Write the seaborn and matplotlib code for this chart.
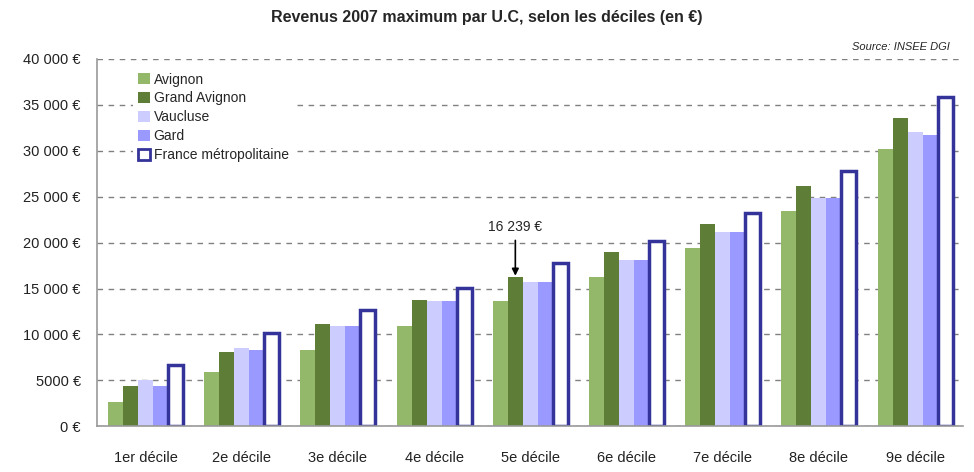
import pandas as pd
import numpy as np
import matplotlib
matplotlib.use("Agg")
import matplotlib.pyplot as plt
import seaborn as sns
from matplotlib.ticker import FuncFormatter

deciles = ['1er décile', '2e décile', '3e décile', '4e décile', '5e décile',
           '6e décile', '7e décile', '8e décile', '9e décile']
zones = ['Avignon', 'Grand Avignon', 'Vaucluse', 'Gard', 'France métropolitaine']

avignon = [2650, 5900, 8300, 10900, 13600, 16300, 19400, 23400, 30200]
grand_avignon = [4400, 8100, 11100, 13800, 16239, 19000, 22000, 26200, 33600]
vaucluse = [5000, 8500, 10900, 13600, 15700, 18100, 21200, 24900, 32100]
gard = [4400, 8300, 10900, 13600, 15700, 18100, 21200, 24900, 31700]
france = [6650, 10200, 12700, 15100, 17800, 20200, 23200, 27800, 35900]

colors = ['#94b86a', '#5e7e38', '#ccccff', '#9999ff', '#ffffff']
navy = '#333399'

rows = []
for zone, vals in zip(zones, [avignon, grand_avignon, vaucluse, gard, france]):
    for d, v in zip(deciles, vals):
        rows.append({'Décile': d, 'Zone': zone, 'Revenu': v})
df = pd.DataFrame(rows)

sns.set_style('white')
plt.rcParams['font.family'] = ['Liberation Sans', 'DejaVu Sans']

fig, ax = plt.subplots(figsize=(9.74, 4.72), dpi=100)
fig.subplots_adjust(left=0.1, right=0.989, top=0.875, bottom=0.097)

sns.barplot(data=df, x='Décile', y='Revenu', hue='Zone', hue_order=zones,
            order=deciles, palette=colors, width=0.78, gap=0, saturation=1,
            linewidth=0, ax=ax)

# France bars: white with navy outline
for bar in ax.containers[4]:
    bar.set_edgecolor(navy)
    bar.set_linewidth(2.5)

ax.set_ylim(0, 40000)
ax.set_xlim(-0.5, 8.5)
ax.yaxis.set_major_formatter(FuncFormatter(lambda v, p: f"{int(v):,} €".replace(',', ' ') if v >= 10000 else f"{int(v)} €"))
ax.set_yticks(np.arange(0, 40001, 5000))
ax.yaxis.grid(True, linestyle=(0, (4, 4)), color='#808080', linewidth=1)
ax.set_axisbelow(True)
ax.set_xlabel('')
ax.set_ylabel('')
ax.tick_params(axis='y', labelsize=10.5, colors='#222222', length=0, pad=12)
ax.tick_params(axis='x', labelsize=10.5, colors='#222222', length=0, pad=18)

for s in ['top', 'right']:
    ax.spines[s].set_visible(False)
ax.spines['left'].set_color('#999999')
ax.spines['bottom'].set_color('#999999')
ax.spines['left'].set_linewidth(1.2)
ax.spines['bottom'].set_linewidth(1.2)

handles, labels = ax.get_legend_handles_labels()
leg = ax.legend(handles, labels, loc='upper left', bbox_to_anchor=(0.041, 0.978),
                frameon=True, facecolor='white', edgecolor='none', framealpha=1,
                fancybox=False, fontsize=10, handlelength=0.8, handleheight=0.8,
                handletextpad=0.3, labelspacing=0.35, borderaxespad=0,
                borderpad=0.4)
for h in leg.legend_handles[4:]:
    h.set_edgecolor(navy)
    h.set_linewidth(2)

ax.annotate('16 239 €', xy=(4 - 0.156, 16239), xytext=(4 - 0.156, 20900),
            ha='center', va='bottom', fontsize=10,
            arrowprops=dict(arrowstyle='-|>', color='black', lw=1.2,
                            shrinkA=2, shrinkB=1, mutation_scale=10))

fig.suptitle('Revenus 2007 maximum par U.C, selon les déciles (en €)',
             fontsize=11.5, fontweight='bold', y=0.978)
fig.text(0.975, 0.9, 'Source: INSEE DGI', ha='right', va='center',
         fontsize=8, style='italic')

fig.savefig('out.png', dpi=100)
